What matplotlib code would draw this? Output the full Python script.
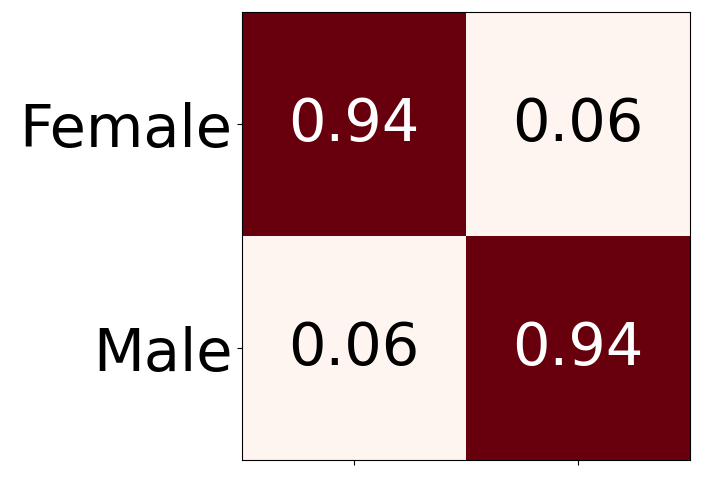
import matplotlib
matplotlib.use("Agg")
import matplotlib.pyplot as plt
import numpy as np

labels = ["Female", "Male"]
cm = np.array([[0.94, 0.06],
               [0.06, 0.94]])

fig = plt.figure(figsize=(7.03, 4.88), dpi=100)
ax = fig.add_axes([242/703, 1-460/488, 448/703, 448/488])
ax.imshow(cm, cmap="Reds", vmin=cm.min(), vmax=cm.max(), aspect="auto")

for i in range(cm.shape[0]):
    for j in range(cm.shape[1]):
        col = "white" if cm[i, j] > cm.max()/2 else "black"
        ax.text(j, i, "%.2f" % cm[i, j], ha="center", va="center", color=col, fontsize=42.5)

ax.set_xticks(range(len(labels)))
ax.set_xticklabels([])
ax.set_yticks(range(len(labels)))
ax.set_yticklabels(labels, fontsize=42.5)

fig.savefig("out.png", dpi=100)
